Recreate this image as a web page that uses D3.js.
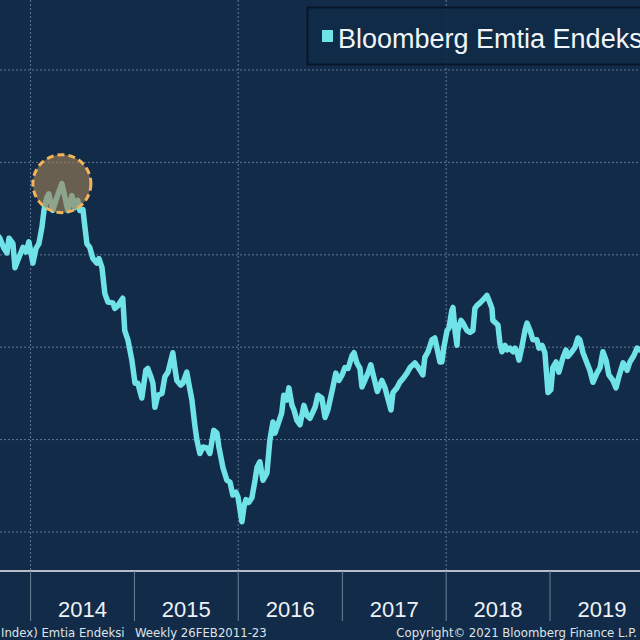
<!DOCTYPE html>
<html>
<head>
<meta charset="utf-8">
<script src="https://cdn.jsdelivr.net/npm/d3@7"></script>
<style>
  html, body { margin: 0; padding: 0; background: #112b48; }
  svg { display: block; }
</style>
</head>
<body>
<svg id="chart" width="640" height="640"></svg>
<script>
// haftalık endeks (okunan değerler)
const dates = [
  "2013-08-29","2013-09-15","2013-09-29","2013-10-10","2013-10-17","2013-10-31","2013-11-07","2013-11-17","2013-12-05","2013-12-16","2013-12-26",
  "2014-01-09","2014-01-20","2014-01-30","2014-02-10","2014-02-17","2014-02-27","2014-03-06","2014-03-20","2014-04-03","2014-04-21","2014-05-02",
  "2014-05-12","2014-05-26","2014-06-06","2014-06-16","2014-06-23","2014-07-04","2014-07-11","2014-07-18","2014-07-28","2014-08-08","2014-08-22",
  "2014-08-29","2014-09-09","2014-09-19","2014-09-30","2014-10-17","2014-10-24","2014-11-04","2014-11-21","2014-11-28","2014-12-09","2014-12-23",
  "2015-01-03","2015-01-13","2015-01-27","2015-02-10","2015-02-17","2015-02-28","2015-03-07","2015-03-14","2015-03-24","2015-04-08","2015-04-18",
  "2015-04-29","2015-05-16","2015-05-23","2015-05-30","2015-06-13","2015-06-20","2015-07-04","2015-07-11","2015-07-22","2015-08-02","2015-08-09",
  "2015-08-19","2015-08-30","2015-09-13","2015-09-23","2015-10-07","2015-10-18","2015-10-25","2015-11-08","2015-11-22","2015-12-03","2015-12-13",
  "2015-12-24","2015-12-31","2016-01-14","2016-01-21","2016-01-28","2016-02-07","2016-02-18","2016-02-29","2016-03-07","2016-03-17","2016-03-28",
  "2016-04-11","2016-04-21","2016-05-02","2016-05-09","2016-05-19","2016-06-02","2016-06-09","2016-06-20","2016-06-27","2016-07-08","2016-07-15",
  "2016-07-25","2016-08-05","2016-08-19","2016-08-30","2016-09-09","2016-09-27","2016-10-07","2016-10-21","2016-11-01","2016-11-11","2016-11-29",
  "2016-12-09","2016-12-20","2016-12-31","2017-01-10","2017-01-21","2017-02-04","2017-02-11","2017-02-21","2017-03-04","2017-03-11","2017-03-21",
  "2017-04-01","2017-04-11","2017-04-18","2017-05-04","2017-05-20","2017-05-31","2017-06-07","2017-06-21","2017-06-28","2017-07-12","2017-07-22",
  "2017-08-02","2017-08-16","2017-08-27","2017-09-13","2017-09-27","2017-10-11","2017-10-18","2017-10-29","2017-11-12","2017-11-22","2017-11-29",
  "2017-12-10","2017-12-17","2017-12-24","2018-01-04","2018-01-11","2018-01-21","2018-01-25","2018-02-01","2018-02-08","2018-02-11","2018-02-22",
  "2018-03-01","2018-03-15","2018-03-26","2018-04-05","2018-04-12","2018-04-19","2018-04-30","2018-05-10","2018-05-24","2018-05-31","2018-06-11",
  "2018-06-14","2018-06-25","2018-07-02","2018-07-09","2018-07-16","2018-07-27","2018-08-03","2018-08-13","2018-08-24","2018-08-31","2018-09-07",
  "2018-09-14","2018-09-24","2018-10-05","2018-10-12","2018-10-23","2018-11-02","2018-11-16","2018-11-23","2018-12-04","2018-12-14","2018-12-25",
  "2019-01-04","2019-01-11","2019-01-22","2019-02-01","2019-02-15","2019-02-26","2019-03-05","2019-03-19","2019-03-30","2019-04-09","2019-04-16",
  "2019-04-27","2019-05-11","2019-05-21","2019-06-01","2019-06-15","2019-06-26","2019-07-06","2019-07-17","2019-07-27","2019-08-10","2019-08-21",
  "2019-08-31","2019-09-15","2019-09-29","2019-10-09","2019-10-23","2019-11-03","2019-11-13","2019-12-01"
];
const values = [
  102.4,101.8,100.7,100.2,101.8,101.2,98.6,99.4,100.8,100.3,101.4,
  99.1,100.7,101.2,103.0,104.8,106.2,106.6,104.8,106.2,107.7,106.2,
  104.8,106.4,105.1,105.9,104.8,104.9,103.0,101.2,100.8,99.6,99.1,
  99.6,98.6,95.8,94.9,94.8,94.2,94.5,95.3,91.8,90.8,88.6,
  86.1,86.1,84.5,87.5,87.7,86.8,86.1,83.5,84.8,85.0,86.8,
  87.3,89.4,87.8,86.4,85.9,86.1,87.3,86.1,84.3,81.4,79.9,
  78.5,79.2,79.1,78.5,81.0,80.7,79.2,77.0,75.6,75.4,74.0,
  74.3,73.8,71.1,72.7,73.5,73.2,73.7,75.6,77.0,77.6,75.6,
  76.4,79.9,81.9,80.7,81.6,82.9,84.8,84.3,85.6,83.7,83.2,
  82.1,81.6,83.7,82.6,82.3,83.5,84.8,84.5,82.4,83.2,85.7,
  87.2,86.4,87.0,87.8,87.7,89.1,89.4,88.3,87.7,85.7,86.4,
  87.2,88.1,87.2,85.2,86.4,85.6,84.8,83.2,85.1,85.6,86.2,
  86.6,87.2,87.8,88.3,87.7,87.0,88.9,89.5,90.8,91.0,90.0,
  88.4,88.4,90.0,91.8,92.1,94.0,94.3,91.8,90.2,91.8,92.9,
  92.6,91.8,91.6,91.8,94.2,94.5,94.8,95.1,95.6,95.1,94.2,
  92.9,92.6,92.4,90.4,89.5,90.2,89.7,89.9,89.5,89.9,89.5,
  88.6,90.0,91.8,92.6,91.8,90.8,90.8,89.9,90.2,89.4,85.1,
  85.4,87.8,88.4,87.3,88.8,89.7,89.0,89.5,90.0,91.0,90.8,
  89.4,88.3,87.5,86.2,87.2,87.8,89.5,88.6,87.0,86.4,85.6,
  86.8,88.3,87.5,88.4,89.1,89.9,89.7,90.2
];
const yTicks = [60, 70, 80, 90, 100, 110, 120, 130];
const tickYears = [2013, 2014, 2015, 2016, 2017, 2018, 2019, 2020];
const labelYears = [2014, 2015, 2016, 2017, 2018, 2019];
const gridYears = [2012, 2014, 2016, 2018, 2020];
const seriesName = "Bloomberg Emtia Endeksi";
const footLeft = "Index) Emtia Endeksi";
const footMid = "Weekly 26FEB2011-23";
const footRight = "Copyright\u00A9 2021 Bloomberg Finance L.P.";
const peakDate = "2014-04-21", peakValue = 107.7;

const W = 640, H = 640,
    axisY = 571, // eksen bandı üst çizgisi
    lineColor = "#6fe3e8",
    gridColor = "#5f7893";

const parse = d3.timeParse("%Y-%m-%d");
const data = dates.map((d, i) => ({ date: parse(d), value: values[i] }));

const svg = d3.select("#chart");
svg.append("rect").attr("width", W).attr("height", H).attr("fill", "#112b48");

const x = d3.scaleTime()
    .domain([new Date(2014, 0, 1), new Date(2019, 0, 1)])
    .range([30.6, 550]);
const y = d3.scaleLinear()
    .domain([70, 120])
    .range([532, 70]);

// ızgara
const grid = svg.append("g");
grid.selectAll("line.h").data(yTicks).join("line")
    .attr("x1", 0).attr("x2", W)
    .attr("y1", d => y(d)).attr("y2", d => y(d))
    .attr("stroke", gridColor).attr("stroke-width", 1).attr("stroke-dasharray", "2,2");
grid.selectAll("line.v").data(gridYears).join("line")
    .attr("x1", d => x(new Date(d, 0, 1))).attr("x2", d => x(new Date(d, 0, 1)))
    .attr("y1", 0).attr("y2", axisY)
    .attr("stroke", gridColor).attr("stroke-width", 1).attr("stroke-dasharray", "2,2");

// seri
svg.append("path")
    .datum(data)
    .attr("fill", "none")
    .attr("stroke", lineColor)
    .attr("stroke-width", 5.5)
    .attr("stroke-linejoin", "round")
    .attr("stroke-linecap", "round")
    .attr("d", d3.line().x(d => x(d.date)).y(d => y(d.value)));

// zirve işareti
svg.append("circle")
    .attr("cx", x(parse(peakDate)))
    .attr("cy", y(peakValue))
    .attr("r", 29)
    .attr("fill", "#a08055")
    .attr("fill-opacity", 0.62)
    .attr("stroke", "#f5b35c")
    .attr("stroke-width", 3)
    .attr("stroke-dasharray", "7,4");

// eksen bandı
svg.append("rect").attr("x", 0).attr("y", axisY).attr("width", W).attr("height", H - axisY).attr("fill", "#112b48");
svg.append("line")
    .attr("x1", 0).attr("x2", W).attr("y1", axisY).attr("y2", axisY)
    .attr("stroke", "#b5bec8").attr("stroke-width", 2);
svg.append("g").selectAll("line").data(tickYears).join("line")
    .attr("x1", d => x(new Date(d, 0, 1))).attr("x2", d => x(new Date(d, 0, 1)))
    .attr("y1", axisY).attr("y2", 621)
    .attr("stroke", "#6e8196").attr("stroke-width", 1);
svg.append("g").selectAll("text").data(labelYears).join("text")
    .attr("x", d => (x(new Date(d, 0, 1)) + x(new Date(d + 1, 0, 1))) / 2)
    .attr("y", 617)
    .attr("text-anchor", "middle")
    .attr("fill", "#eef2f6")
    .attr("font-family", "Liberation Sans, Arial, sans-serif")
    .attr("font-size", 22)
    .text(d => d);

// alt bilgi
const foot = svg.append("g")
    .attr("fill", "#dfe4ea")
    .attr("font-family", "'DejaVu Sans Condensed', 'DejaVu Sans', sans-serif")
    .attr("font-size", 13);
foot.append("text").attr("x", 1).attr("y", 637).text(footLeft);
foot.append("text").attr("x", 135).attr("y", 637).text(footMid);
foot.append("text").attr("x", 637).attr("y", 637).attr("text-anchor", "end").text(footRight);

// lejant
const legend = svg.append("g");
legend.append("rect")
    .attr("x", 307.5).attr("y", 7.5).attr("width", 345).attr("height", 57)
    .attr("fill", "#112b48").attr("fill-opacity", 0.85)
    .attr("stroke", "#08162a").attr("stroke-width", 2);
legend.append("rect")
    .attr("x", 322).attr("y", 30).attr("width", 11).attr("height", 12)
    .attr("fill", lineColor);
legend.append("text")
    .attr("x", 338).attr("y", 48)
    .attr("fill", "#f2f5f8")
    .attr("font-family", "Liberation Sans, Arial, sans-serif")
    .attr("font-size", 27)
    .text(seriesName);
</script>
</body>
</html>
